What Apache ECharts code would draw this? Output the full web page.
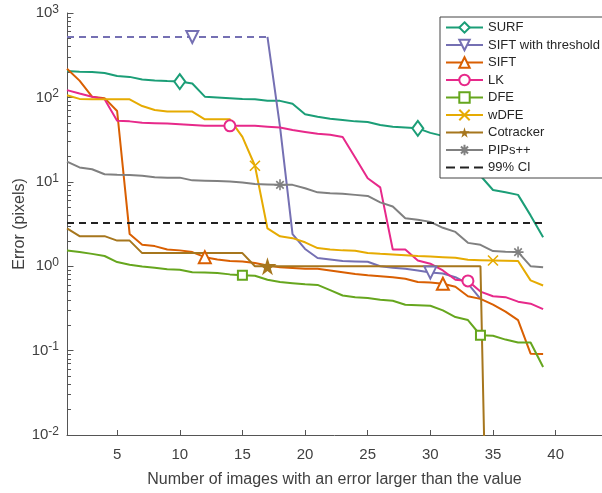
<!DOCTYPE html>
<html><head><meta charset="utf-8">
<script src="https://cdn.jsdelivr.net/npm/echarts@6/dist/echarts.min.js"></script>
<style>html,body{margin:0;padding:0;background:#fff}#c{width:602px;height:493px}</style>
</head><body><div id="c"></div>
<script>
const xs = [1,2,3,4,5,6,7,8,9,10,11,12,13,14,15,16,17,18,19,20,21,22,23,24,25,26,27,28,29,30,31,32,33,34,35,36,37,38,39];
const surf = [205,202,200,195,179,175,163,159,156,154,146,102,100,98,96,95,91,91,84,63,59,56,54,52,51,47,45,44,43,38,35,26,17,11.8,8.0,7.5,7.0,4.0,2.2];
const siftThrDashed = [520,520,520,520,520,520,520,520,520,520,520,520,520,520,520,520,520];
const siftThr = [null,null,null,null,null,null,null,null,null,null,null,null,null,null,null,null,520,45,2.4,1.6,1.25,1.2,1.15,1.14,1.13,1.0,0.96,0.93,0.89,0.84,0.82,0.74,0.62,0.41];
const sift = [218,158,102,98,69,2.4,1.79,1.73,1.58,1.54,1.47,1.28,1.20,1.15,1.14,1.09,1.02,0.97,0.95,0.93,0.93,0.89,0.85,0.81,0.78,0.76,0.74,0.71,0.65,0.64,0.62,0.57,0.44,0.41,0.35,0.29,0.23,0.092,0.091];
const lk = [122,111,102,95,53,52,50,49.5,49,48,47,46,46,46,46,46,45,44,41,39,37,36,34,19.4,11,8.6,1.58,1.58,1.17,1.07,0.89,0.69,0.67,0.50,0.44,0.43,0.38,0.36,0.31];
const dfe = [1.53,1.47,1.40,1.32,1.12,1.04,0.99,0.96,0.92,0.91,0.85,0.84,0.83,0.80,0.78,0.77,0.69,0.65,0.63,0.61,0.60,0.52,0.45,0.43,0.42,0.40,0.39,0.35,0.345,0.34,0.30,0.25,0.23,0.152,0.15,0.135,0.125,0.125,0.064];
const wdfe = [106,96,95,95,95,95,79,71,68,68,68,55,55,55,34,15.5,2.8,2.26,2.15,1.92,1.64,1.58,1.54,1.52,1.43,1.40,1.38,1.35,1.32,1.30,1.28,1.26,1.19,1.18,1.17,1.16,1.15,0.68,0.59];
const cotracker = [2.8,2.27,2.27,2.27,2.01,2.01,1.43,1.43,1.43,1.43,1.43,1.43,1.43,1.43,1.43,1.0,1.0,1.0,1.0,1.0,1.0,1.0,1.0,1.0,1.0,1.0,1.0,1.0,1.0,1.0,1.0,1.0,1.0,1.0,1e-7];
const pips = [17.3,14.8,14.1,12.3,12.1,12.0,11.8,11.3,11.2,11.2,10.4,10.3,10.2,10.1,9.8,9.4,9.3,9.2,9.2,8.4,7.5,7.3,7.2,7.0,6.8,5.7,5.1,3.7,3.55,3.35,2.85,2.55,1.89,1.79,1.51,1.48,1.47,1.0,0.97];
const ciX = [1, 39];
const ciY = [3.25, 3.25];
const xTicks = [5,10,15,20,25,30,35,40];
const yMinorTicks = [];
for (let d = -2; d < 3; d++) for (let k = 2; k <= 9; k++) yMinorTicks.push(Math.log10(k) + d);

const names = ['SURF','SIFT with threshold','SIFT','LK','DFE','wDFE','Cotracker','PIPs++','99% CI'];
const colors = {SURF:'#1b9e77', SIFTT:'#7570b3', SIFT:'#d95f02', LK:'#e7298a', DFE:'#66a61e', WDFE:'#e6ab02', COT:'#a6761d', PIPS:'#808080'};

const xPath = 'path://M0,0L10,10M10,0L0,10';
const astPath = 'path://M5,0L5,10M0,5L10,5M1.6,1.6L8.4,8.4M8.4,1.6L1.6,8.4';
const starPath = 'path://M50,0L61,35L98,35L68,57L79,91L50,70L21,91L32,57L2,35L39,35Z';
const dashIcon = 'path://M0,0h9v2h-9zM14,0h9v2h-9zM28,0h9v2h-9z';

function pts(vals, markers, xArr) {
  const out = [];
  const xa = xArr || xs;
  vals.forEach((v, i) => {
    if (v == null) return;
    const x = xa[i];
    const item = {value: [x, v]};
    if (!markers || markers.indexOf(x) < 0) item.symbol = 'none';
    out.push(item);
  });
  return out;
}

function mk(name, color, vals, markers, symbol, size, extra) {
  const s = {
    name: name, type: 'line', data: pts(vals, markers),
    symbol: symbol, symbolSize: size, showSymbol: true,
    color: color,
    lineStyle: {color: color, width: 2},
    itemStyle: {color: color, borderColor: color, borderWidth: 1.6},
    emphasis: {disabled: true}, animation: false
  };
  return Object.assign(s, extra || {});
}

const series = [
  mk('SURF', colors.SURF, surf, [10,29], 'emptyDiamond', [11,15]),
  mk('SIFT with threshold', colors.SIFTT, siftThr, [30], 'emptyTriangle', 12, {symbolRotate: 180}),
  mk('SIFT thr dashed', colors.SIFTT, siftThrDashed, [11], 'emptyTriangle', 12, {symbolRotate: 180, lineStyle: {color: colors.SIFTT, width: 2, type: [7,5]}}),
  mk('SIFT', colors.SIFT, sift, [12,31], 'emptyTriangle', 12),
  mk('LK', colors.LK, lk, [14,33], 'emptyCircle', 11),
  mk('DFE', colors.DFE, dfe, [15,34], 'emptyRect', 9),
  mk('wDFE', colors.WDFE, wdfe, [16,35], xPath, 10),
  mk('Cotracker', colors.COT, cotracker, [17,36], starPath, 18, {itemStyle: {color: colors.COT, borderColor: colors.COT, borderWidth: 0}}),
  mk('PIPs++', colors.PIPS, pips, [18,37], astPath, 11),
  {name: '99% CI', type: 'line', data: ciX.map((x, i) => [x, ciY[i]]), symbol: 'none', color: '#222',
   lineStyle: {color: '#222', width: 2, type: [7,5]}, emphasis: {disabled: true}, animation: false}
];

const legendData = names.map(n => n === '99% CI' ? {name: n, icon: dashIcon, itemStyle: {color: '#222'}} : n);

const chart = echarts.init(document.getElementById('c'));
chart.setOption({
  animation: false,
  textStyle: {fontFamily: 'Liberation Sans, Arial, sans-serif'},
  grid: {left: 67, right: 0, top: 13, bottom: 56, containLabel: false},
  legend: {
    data: legendData, orient: 'vertical', left: 440, top: 17,
    padding: [4, 6, 4, 5], itemGap: 4.5, itemWidth: 37, itemHeight: 13,
    backgroundColor: '#fff', borderColor: '#444', borderWidth: 1,
    textStyle: {fontSize: 13, color: '#262626', fontFamily: 'Liberation Sans, Arial, sans-serif'},
    selectedMode: false
  },
  xAxis: {
    type: 'value', min: 1, max: 43.7,
    name: 'Number of images with an error larger than the value',
    nameLocation: 'middle', nameGap: 37, nameMoveOverlap: false,
    nameTextStyle: {fontSize: 16, color: '#404040'},
    axisLine: {onZero: false, lineStyle: {color: '#555', width: 1}},
    axisTick: {inside: true, length: 5, customValues: xTicks, lineStyle: {color: '#555'}},
    axisLabel: {customValues: xTicks, fontSize: 15, color: '#404040', margin: 12},
    splitLine: {show: false}
  },
  yAxis: [{
    type: 'log', logBase: 10, min: 0.01, max: 1000,
    name: 'Error (pixels)', nameLocation: 'middle', nameGap: 39, nameMoveOverlap: false,
    nameTextStyle: {fontSize: 16, color: '#404040'},
    axisLine: {show: true, onZero: false, lineStyle: {color: '#555', width: 1}},
    axisTick: {inside: true, length: 6.5, lineStyle: {color: '#555'}},
    axisLabel: {
      fontSize: 15, color: '#404040', margin: 8,
      formatter: v => '10{s|' + Math.round(Math.log10(v)) + '}',
      rich: {s: {fontSize: 12, color: '#404040', verticalAlign: 'top', padding: [0, 0, 7, 0]}}
    },
    splitLine: {show: false}, minorTick: {show: false}
  }, {
    type: 'value', min: -2, max: 3, position: 'left', offset: 0,
    axisLine: {show: false, onZero: false},
    axisTick: {show: true, inside: true, length: 4, customValues: yMinorTicks, lineStyle: {color: '#555', width: 1}},
    axisLabel: {show: true, customValues: yMinorTicks, formatter: () => ''},
    splitLine: {show: false}
  }],
  series: series
});
</script></body></html>
